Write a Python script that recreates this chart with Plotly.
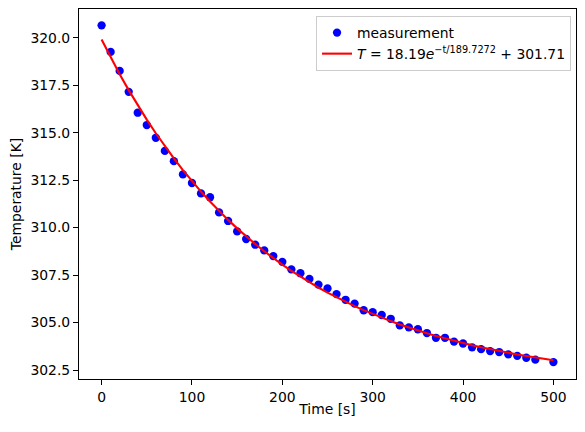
import plotly.graph_objects as go
import numpy as np

time_s = [0, 10, 20, 30, 40, 50, 60, 70, 80, 90, 100, 110, 120, 130, 140, 150,
          160, 170, 180, 190, 200, 210, 220, 230, 240, 250, 260, 270, 280, 290,
          300, 310, 320, 330, 340, 350, 360, 370, 380, 390, 400, 410, 420, 430,
          440, 450, 460, 470, 480, 500]
temperature_K = [320.65, 319.25, 318.25, 317.15, 316.05, 315.4, 314.73, 314.04,
                 313.5, 312.8, 312.35, 311.8, 311.6, 310.8, 310.35, 309.8, 309.4,
                 309.1, 308.8, 308.5, 308.2, 307.8, 307.6, 307.3, 307.0, 306.8,
                 306.5, 306.2, 306.0, 305.65, 305.55, 305.4, 305.2, 304.85, 304.75,
                 304.65, 304.45, 304.2, 304.2, 304.0, 303.9, 303.7, 303.6, 303.5,
                 303.45, 303.33, 303.25, 303.15, 303.05, 302.92]

fit_amp = 18.19
fit_tau = 189.7272
fit_offset = 301.71
fit_label = "<i>T</i> = 18.19<i>e</i><sup>\u2212t/189.7272</sup> + 301.71"
y_ticks = [302.5, 305.0, 307.5, 310.0, 312.5, 315.0, 317.5, 320.0]
x_ticks = [0, 100, 200, 300, 400, 500]

t_fit = np.array(time_s, dtype=float)
T_fit = fit_amp * np.exp(-t_fit / fit_tau) + fit_offset

font = "DejaVu Sans"
fig = go.Figure()
fig.add_trace(go.Scatter(x=time_s, y=temperature_K, mode="markers",
                         marker=dict(color="#0000ff", size=8.3, line=dict(width=0)),
                         name="measurement"))
fig.add_trace(go.Scatter(x=t_fit, y=T_fit, mode="lines",
                         line=dict(color="#ff0000", width=2.1),
                         name=fit_label))

axis_common = dict(showgrid=False, zeroline=False, showline=True, mirror=True,
                   linecolor="black", linewidth=1.1, ticks="outside", ticklen=5,
                   tickwidth=1.1, tickcolor="black", automargin=False,
                   tickfont=dict(family=font, size=13.9, color="black"))
fig.update_xaxes(range=[-25, 525], tickvals=x_ticks,
                 title=dict(text="Time [s]", font=dict(family=font, size=13.9, color="black"), standoff=0),
                 **axis_common)
fig.update_yaxes(range=[302.03, 321.51], tickvals=y_ticks, tickformat=".1f",
                 title=dict(text="Temperature [K]", font=dict(family=font, size=13.9, color="black"), standoff=6),
                 **axis_common)

# page body adds an 8px offset, so the figure is sized to fit inside it
fig.update_layout(width=569, height=416,
                  margin=dict(l=71, r=1, t=1, b=45, autoexpand=False),
                  paper_bgcolor="white", plot_bgcolor="white",
                  font=dict(family=font, size=13.9, color="black"),
                  showlegend=True,
                  legend=dict(x=0.99, y=0.981, xanchor="right", yanchor="top",
                              bgcolor="rgba(255,255,255,0.8)", bordercolor="#cccccc",
                              borderwidth=1, itemwidth=30, tracegroupgap=0,
                              font=dict(family=font, size=13.9, color="black")))

fig.write_html("out.html")
